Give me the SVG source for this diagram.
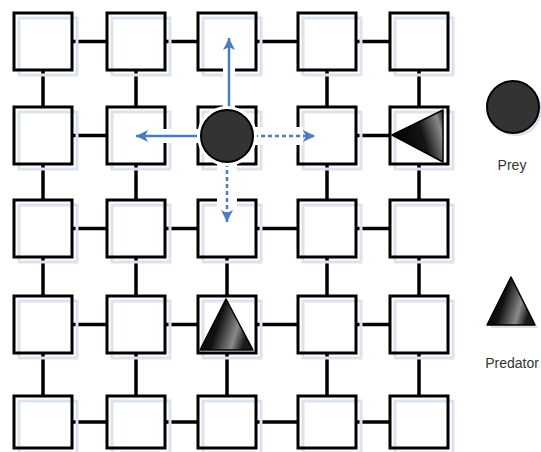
<svg xmlns="http://www.w3.org/2000/svg" width="541" height="452" viewBox="0 0 541 452">
<style>
.sq{fill:none;stroke:#000;stroke-width:3}
.sh{fill:none;stroke:#dde3ed;stroke-width:3}
.cn{stroke:#000;stroke-width:3.5;fill:none}
.ar{stroke:#4a7dbd;stroke-width:2.5;fill:none}
.dash{stroke-dasharray:4 3}
.halo{stroke:#fff;fill:none}
.lbl{font-family:"Liberation Sans",Arial,sans-serif;font-size:14px;fill:#333}
.prey{fill:#333;stroke:#000;stroke-width:2}
.pred{stroke:#000;stroke-width:1.5;stroke-linejoin:round}
</style>
<defs>
<marker id="ah" markerUnits="userSpaceOnUse" markerWidth="14" markerHeight="12" refX="12" refY="6" orient="auto">
<path d="M0,0 L12,6 L0,12 L3,6 z" fill="#4a7dbd"/>
</marker>
<linearGradient id="gu" x1="0" y1="0" x2="1" y2="0.3">
<stop offset="0" stop-color="#000"/>
<stop offset="0.45" stop-color="#111"/>
<stop offset="0.8" stop-color="#8a8a8a"/>
<stop offset="1" stop-color="#1a1a1a"/>
</linearGradient>
<linearGradient id="gl" x1="0" y1="0.3" x2="1" y2="0">
<stop offset="0" stop-color="#000"/>
<stop offset="0.5" stop-color="#151515"/>
<stop offset="0.85" stop-color="#8a8a8a"/>
<stop offset="1" stop-color="#1a1a1a"/>
</linearGradient>
</defs>

<g id="connectors">
<!-- horizontal row1 -->
<line class="cn" x1="72" y1="41.5" x2="107" y2="41.5"/>
<line class="cn" x1="165" y1="41.5" x2="198" y2="41.5"/>
<line class="cn" x1="256" y1="41.5" x2="298" y2="41.5"/>
<line class="cn" x1="356" y1="41.5" x2="390" y2="41.5"/>
<!-- row2 -->
<line class="cn" x1="72" y1="135.5" x2="107" y2="135.5"/>
<line class="cn" x1="356" y1="135.5" x2="390" y2="135.5"/>
<!-- row3 -->
<line class="cn" x1="72" y1="228.5" x2="107" y2="228.5"/>
<line class="cn" x1="165" y1="228.5" x2="198" y2="228.5"/>
<line class="cn" x1="256" y1="228.5" x2="298" y2="228.5"/>
<line class="cn" x1="356" y1="228.5" x2="390" y2="228.5"/>
<!-- row4 -->
<line class="cn" x1="72" y1="324.5" x2="107" y2="324.5"/>
<line class="cn" x1="165" y1="324.5" x2="198" y2="324.5"/>
<line class="cn" x1="256" y1="324.5" x2="298" y2="324.5"/>
<line class="cn" x1="356" y1="324.5" x2="390" y2="324.5"/>
<!-- row5 -->
<line class="cn" x1="72" y1="422" x2="107" y2="422"/>
<line class="cn" x1="165" y1="422" x2="198" y2="422"/>
<line class="cn" x1="256" y1="422" x2="298" y2="422"/>
<line class="cn" x1="356" y1="422" x2="390" y2="422"/>
<!-- verticals col1 -->
<line class="cn" x1="43" y1="70" x2="43" y2="107"/>
<line class="cn" x1="43" y1="164" x2="43" y2="200"/>
<line class="cn" x1="43" y1="257" x2="43" y2="296"/>
<line class="cn" x1="43" y1="353" x2="43" y2="396"/>
<!-- col2 -->
<line class="cn" x1="136" y1="70" x2="136" y2="107"/>
<line class="cn" x1="136" y1="164" x2="136" y2="200"/>
<line class="cn" x1="136" y1="257" x2="136" y2="296"/>
<line class="cn" x1="136" y1="353" x2="136" y2="396"/>
<!-- col3 -->
<line class="cn" x1="227" y1="257" x2="227" y2="296"/>
<line class="cn" x1="227" y1="353" x2="227" y2="396"/>
<!-- col4 -->
<line class="cn" x1="327" y1="70" x2="327" y2="107"/>
<line class="cn" x1="327" y1="164" x2="327" y2="200"/>
<line class="cn" x1="327" y1="257" x2="327" y2="296"/>
<line class="cn" x1="327" y1="353" x2="327" y2="396"/>
<!-- col5 -->
<line class="cn" x1="419" y1="70" x2="419" y2="107"/>
<line class="cn" x1="419" y1="164" x2="419" y2="200"/>
<line class="cn" x1="419" y1="257" x2="419" y2="296"/>
<line class="cn" x1="419" y1="353" x2="419" y2="396"/>
</g>

<g id="cells">
<g id="c11"><rect class="sh" x="19" y="18" width="58" height="57"/><rect class="sq" x="14" y="13" width="58" height="57"/></g>
<g id="c12"><rect class="sh" x="112" y="18" width="58" height="57"/><rect class="sq" x="107" y="13" width="58" height="57"/></g>
<g id="c13"><rect class="sh" x="203" y="18" width="58" height="57"/><rect class="sq" x="198" y="13" width="58" height="57"/></g>
<g id="c14"><rect class="sh" x="303" y="18" width="58" height="57"/><rect class="sq" x="298" y="13" width="58" height="57"/></g>
<g id="c15"><rect class="sh" x="395" y="18" width="58" height="57"/><rect class="sq" x="390" y="13" width="58" height="57"/></g>

<g id="c21"><rect class="sh" x="19" y="112" width="58" height="57"/><rect class="sq" x="14" y="107" width="58" height="57"/></g>
<g id="c22"><rect class="sh" x="112" y="112" width="58" height="57"/><rect class="sq" x="107" y="107" width="58" height="57"/></g>
<g id="c23"><rect class="sh" x="203" y="112" width="58" height="57"/><rect class="sq" x="198" y="107" width="58" height="57"/></g>
<g id="c24"><rect class="sh" x="303" y="112" width="58" height="57"/><rect class="sq" x="298" y="107" width="58" height="57"/></g>
<g id="c25"><rect class="sh" x="395" y="112" width="58" height="57"/><rect class="sq" x="390" y="107" width="58" height="57"/></g>

<g id="c31"><rect class="sh" x="19" y="205" width="58" height="57"/><rect class="sq" x="14" y="200" width="58" height="57"/></g>
<g id="c32"><rect class="sh" x="112" y="205" width="58" height="57"/><rect class="sq" x="107" y="200" width="58" height="57"/></g>
<g id="c33"><rect class="sh" x="203" y="205" width="58" height="57"/><rect class="sq" x="198" y="200" width="58" height="57"/></g>
<g id="c34"><rect class="sh" x="303" y="205" width="58" height="57"/><rect class="sq" x="298" y="200" width="58" height="57"/></g>
<g id="c35"><rect class="sh" x="395" y="205" width="58" height="57"/><rect class="sq" x="390" y="200" width="58" height="57"/></g>

<g id="c41"><rect class="sh" x="19" y="301" width="58" height="57"/><rect class="sq" x="14" y="296" width="58" height="57"/></g>
<g id="c42"><rect class="sh" x="112" y="301" width="58" height="57"/><rect class="sq" x="107" y="296" width="58" height="57"/></g>
<g id="c43"><rect class="sh" x="203" y="301" width="58" height="57"/><rect class="sq" x="198" y="296" width="58" height="57"/></g>
<g id="c44"><rect class="sh" x="303" y="301" width="58" height="57"/><rect class="sq" x="298" y="296" width="58" height="57"/></g>
<g id="c45"><rect class="sh" x="395" y="301" width="58" height="57"/><rect class="sq" x="390" y="296" width="58" height="57"/></g>

<g id="c51"><rect class="sh" x="19" y="401" width="58" height="52"/><rect class="sq" x="14" y="396" width="58" height="52"/></g>
<g id="c52"><rect class="sh" x="112" y="401" width="58" height="52"/><rect class="sq" x="107" y="396" width="58" height="52"/></g>
<g id="c53"><rect class="sh" x="203" y="401" width="58" height="52"/><rect class="sq" x="198" y="396" width="58" height="52"/></g>
<g id="c54"><rect class="sh" x="303" y="401" width="58" height="52"/><rect class="sq" x="298" y="396" width="58" height="52"/></g>
<g id="c55"><rect class="sh" x="395" y="401" width="58" height="52"/><rect class="sq" x="390" y="396" width="58" height="52"/></g>
</g>

<g id="moves">
<line class="halo" stroke-width="12" x1="229" y1="108" x2="229" y2="50"/>
<line class="halo" stroke-width="14" x1="200" y1="136" x2="148" y2="136"/>
<line class="halo" stroke-width="18" x1="254" y1="136" x2="303" y2="136"/>
<line class="halo" stroke-width="20" x1="227" y1="164" x2="227" y2="212"/>
<line class="ar" x1="229" y1="110" x2="229" y2="38" marker-end="url(#ah)"/>
<line class="ar" x1="201" y1="136" x2="136" y2="136" marker-end="url(#ah)"/>
<line class="ar dash" x1="254" y1="136" x2="315" y2="136" marker-end="url(#ah)"/>
<line class="ar dash" x1="227" y1="163" x2="227" y2="222" marker-end="url(#ah)"/>
</g>

<g id="prey">
<circle cx="227" cy="136" r="30" fill="#fff"/>
<circle class="prey" cx="227" cy="136" r="26"/>
</g>

<g id="predator1">
<polygon class="pred" fill="url(#gl)" points="392,135 443,110 443,162"/>
</g>

<g id="predator2">
<polygon class="pred" fill="url(#gu)" points="226,299 200,350 253,350"/>
</g>

<g id="legend-prey">
<circle cx="516" cy="110" r="26" fill="#dde3ed"/>
<circle class="prey" cx="513" cy="107" r="26"/>
<text class="lbl" x="512" y="170" text-anchor="middle">Prey</text>
</g>

<g id="legend-predator">
<polygon points="514,281 490,328 538,328" fill="#dde3ed"/>
<polygon class="pred" fill="url(#gu)" points="511,277 487,325 535,325"/>
<text class="lbl" x="512" y="368" text-anchor="middle">Predator</text>
</g>
</svg>
